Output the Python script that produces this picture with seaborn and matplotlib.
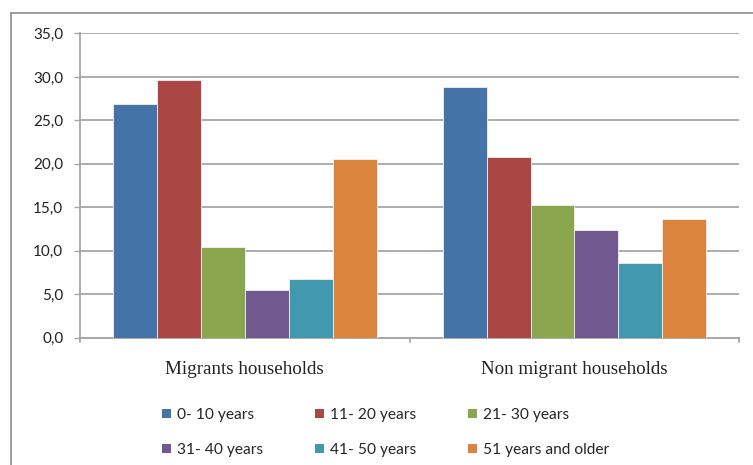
import matplotlib
matplotlib.use("Agg")
import matplotlib.pyplot as plt
from matplotlib.patches import Patch
from matplotlib.lines import Line2D
import seaborn as sns
import pandas as pd

households = ["Migrants households", "Non migrant households"]
age_groups = ["0- 10 years", "11- 20 years", "21- 30 years",
              "31- 40 years", "41- 50 years", "51 years and older"]
migrants = [26.9, 29.6, 10.4, 5.5, 6.8, 20.6]
non_migrants = [28.9, 20.8, 15.3, 12.4, 8.6, 13.6]
y_ticks = [0, 5, 10, 15, 20, 25, 30, 35]
y_tick_labels = ["0,0", "5,0", "10,0", "15,0", "20,0", "25,0", "30,0", "35,0"]

colors = ["#4572A7", "#AA4643", "#89A54E", "#71588F", "#4198AF", "#DB843D"]

df = pd.DataFrame({
    "household": [households[0]] * 6 + [households[1]] * 6,
    "age": age_groups * 2,
    "share": migrants + non_migrants,
})

sns.set_style("white")
plt.rcParams["font.family"] = ["Lato", "DejaVu Sans"]

fig = plt.figure(figsize=(7.53, 4.65), dpi=100)
ax = fig.add_axes([80 / 753, 1 - 337.7 / 465, (739.3 - 80) / 753, (337.7 - 33.5) / 465])

sns.barplot(data=df, x="household", y="share", hue="age", hue_order=age_groups,
            order=households, palette=colors, saturation=1, width=0.8, gap=0,
            edgecolor="#f2f2f2", linewidth=0.6, legend=False, ax=ax, zorder=3)

ax.set_ylim(0, 35)
ax.set_xlim(-0.5, 1.5)
ax.set_yticks(y_ticks)
ax.set_yticklabels(y_tick_labels, fontsize=11, color="#222222")
ax.yaxis.grid(True, color="#a6a6a6", linewidth=1.3, zorder=0)
ax.set_axisbelow(True)
ax.set_xlabel("")
ax.set_ylabel("")
ax.set_xticks([0, 1])
ax.set_xticklabels(households, fontsize=13.7, family="Liberation Serif", color="#222222")
ax.tick_params(axis="x", length=0, pad=17)
ax.tick_params(axis="y", length=4, width=1, color="#a6a6a6", pad=8, left=True)

for s in ["top", "right"]:
    ax.spines[s].set_visible(False)
for s in ["left", "bottom"]:
    ax.spines[s].set_color("#a6a6a6")
    ax.spines[s].set_linewidth(1.3)

# small category separators below the x axis
for xv in [-0.5, 0.5, 1.5]:
    ax.plot([xv, xv], [0, -0.45], color="#a6a6a6", lw=1.3, clip_on=False, zorder=1)

# outer chart frame
fig.add_artist(Line2D([11 / 753, 11 / 753], [0, 1 - 13 / 465], color="#8c8c8c", lw=1.2))
fig.add_artist(Line2D([11 / 753, 1], [1 - 13 / 465, 1 - 13 / 465], color="#8c8c8c", lw=1.2))

handles = [Patch(facecolor=c, edgecolor="none") for c in colors]
order = [0, 3, 1, 4, 2, 5]
fig.legend([handles[i] for i in order], [age_groups[i] for i in order],
           ncol=3, loc="upper left", bbox_to_anchor=(162 / 753, 1 - 408 / 465),
           frameon=False, fontsize=11.2, handlelength=0.6, handleheight=0.6,
           handletextpad=0.35, columnspacing=3.34, labelspacing=1.35,
           borderpad=0, borderaxespad=0)

fig.savefig("out.png", dpi=100)
